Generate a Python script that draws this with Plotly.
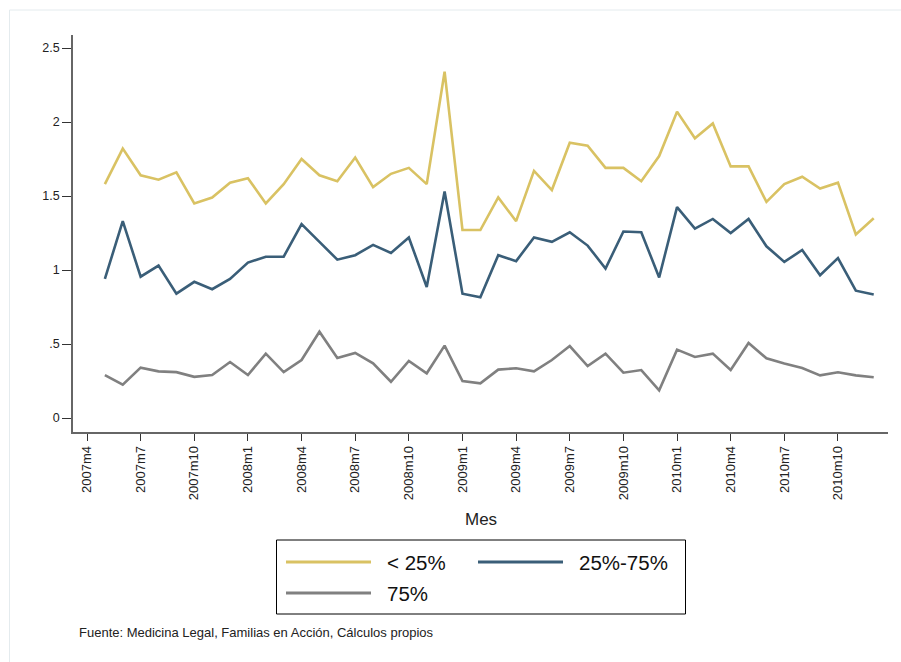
import plotly.graph_objects as go

# ---- data ----
start_year, start_month = 2007, 5
n_points = 44
low25 = [1.58, 1.82, 1.64, 1.61, 1.66, 1.45, 1.49, 1.59, 1.62, 1.45,
         1.58, 1.75, 1.64, 1.60, 1.76, 1.56, 1.65, 1.69, 1.58, 2.34,
         1.27, 1.27, 1.49, 1.33, 1.67, 1.54, 1.86, 1.84, 1.69, 1.69,
         1.60, 1.77, 2.07, 1.89, 1.99, 1.70, 1.70, 1.46, 1.58, 1.63,
         1.55, 1.59, 1.24, 1.35]
mid25_75 = [0.94, 1.33, 0.955, 1.03, 0.84, 0.92, 0.87, 0.94, 1.05, 1.09,
            1.09, 1.31, 1.19, 1.07, 1.10, 1.17, 1.115, 1.22, 0.885, 1.53,
            0.84, 0.815, 1.10, 1.06, 1.22, 1.19, 1.255, 1.165, 1.01, 1.26,
            1.255, 0.95, 1.425, 1.28, 1.345, 1.25, 1.345, 1.16, 1.055, 1.135,
            0.965, 1.08, 0.86, 0.835]
high75 = [0.29, 0.225, 0.34, 0.315, 0.31, 0.278, 0.29, 0.378, 0.29, 0.435,
          0.31, 0.392, 0.583, 0.405, 0.44, 0.369, 0.245, 0.385, 0.302, 0.489,
          0.25, 0.234, 0.327, 0.336, 0.315, 0.392, 0.486, 0.351, 0.435, 0.306,
          0.324, 0.187, 0.462, 0.412, 0.435, 0.324, 0.507, 0.403, 0.369, 0.338,
          0.288, 0.309, 0.288, 0.275]
series_names = ["< 25%", "25%-75%", "75%"]
tick_months = ["2007m4", "2007m7", "2007m10", "2008m1", "2008m4", "2008m7",
               "2008m10", "2009m1", "2009m4", "2009m7", "2009m10", "2010m1",
               "2010m4", "2010m7", "2010m10"]
y_tickvals = [0, 0.5, 1, 1.5, 2, 2.5]
y_ticktext = ["0", ".5", "1", "1.5", "2", "2.5"]
source_note = "Fuente: Medicina Legal, Familias en Acción, Cálculos propios"
x_title = "Mes"

# ---- helpers ----
def label_to_num(lbl):
    y, m = lbl.split("m")
    return int(y) * 12 + int(m) - 1

x_vals = [start_year * 12 + start_month - 1 + i for i in range(n_points)]
x_tickvals = [label_to_num(t) for t in tick_months]

colors = ["#D9C263", "#3A5E78", "#808080"]

W, H = 901, 662
ML, MR, MT, MB = 73, 13, 35, 230
plot_w = W - ML - MR
plot_h = H - MT - MB

base = label_to_num("2007m4")
px_per_month = 17.88
x_range = [base + (ML - 87) / px_per_month, base + (ML - 87 + plot_w) / px_per_month]
px_per_unit = 148.0
y_range = [-(MT + plot_h - 418) / px_per_unit, (418 - MT) / px_per_unit]

def px(xp):
    return (xp - ML) / plot_w

def py(yp):
    return (MT + plot_h - yp) / plot_h

fig = go.Figure()
for name, vals, c in zip(series_names, [low25, mid25_75, high75], colors):
    fig.add_trace(go.Scatter(x=x_vals, y=vals, mode="lines", name=name,
                             line=dict(color=c, width=2.6), showlegend=False))

shapes = []
annotations = []
# outer faint frame
shapes.append(dict(type="rect", xref="paper", yref="paper",
                   x0=px(9.5), x1=px(960), y0=py(10), y1=py(720),
                   line=dict(color="#E4EBEE", width=1), layer="below"))
# legend box
shapes.append(dict(type="rect", xref="paper", yref="paper",
                   x0=px(276.5), x1=px(685.5), y0=py(540), y1=py(614),
                   line=dict(color="#000000", width=1), fillcolor="white"))
legend_pos = [(286, 371, 562, 385), (478, 563, 562, 577), (286, 371, 593, 385)]
for (x0, x1, yy, tx), name, c in zip(legend_pos, series_names, colors):
    shapes.append(dict(type="line", xref="paper", yref="paper",
                       x0=px(x0), x1=px(x1), y0=py(yy), y1=py(yy),
                       line=dict(color=c, width=3)))
    annotations.append(dict(text=name, xref="paper", yref="paper",
                            x=px(tx), y=py(yy), xanchor="left", yanchor="middle",
                            showarrow=False,
                            font=dict(family="Liberation Sans", size=20.5, color="#111")))
annotations.append(dict(text=source_note, xref="paper", yref="paper",
                        x=px(77), y=py(632), xanchor="left", yanchor="middle",
                        showarrow=False,
                        font=dict(family="Liberation Sans", size=13, color="#222")))
annotations.append(dict(text=x_title, xref="paper", yref="paper",
                        x=px(481), y=py(519), xanchor="center", yanchor="middle",
                        showarrow=False,
                        font=dict(family="Liberation Sans", size=17, color="#222")))

fig.update_layout(
    width=W, height=H,
    margin=dict(l=ML, r=MR, t=MT, b=MB, pad=0),
    paper_bgcolor="white", plot_bgcolor="white",
    showlegend=False,
    shapes=shapes, annotations=annotations,
    xaxis=dict(range=x_range, tickmode="array", tickvals=x_tickvals,
               ticktext=tick_months, tickangle=-90, showgrid=False,
               zeroline=False, showline=True, linecolor="#666", linewidth=1.5,
               ticks="outside", ticklen=7, tickcolor="#333", tickwidth=1.2,
               tickfont=dict(family="Liberation Sans", size=13, color="#222")),
    yaxis=dict(range=y_range, tickmode="array", tickvals=y_tickvals,
               ticktext=y_ticktext, showgrid=False, zeroline=False,
               showline=True, linecolor="#666", linewidth=1.5,
               ticks="outside", ticklen=9, tickcolor="#333", tickwidth=1.2,
               tickfont=dict(family="Liberation Sans", size=12.5, color="#222")),
)

fig.write_html("out.html")
